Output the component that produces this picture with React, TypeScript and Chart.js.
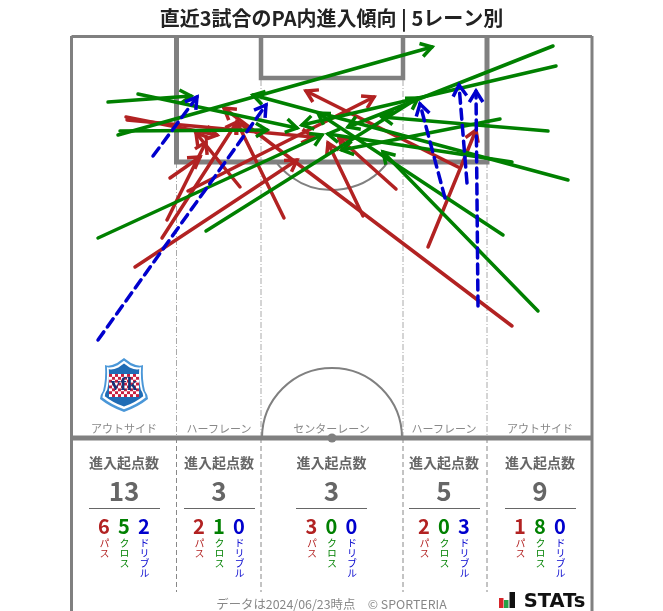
import React, { useEffect, useRef } from "react";
import { Chart, registerables } from "chart.js";

Chart.register(...registerables);

const TITLE = "直近3試合のPA内進入傾向 | 5レーン別";
const FONT = "'Noto Sans CJK JP', 'Noto Sans', sans-serif";

// Arrows in pitch units: [startX, startY, endX, endY]. Pitch is 104 wide and 100 long.
const passArrows = [
  [12.6, 42.75, 45, 69.5],
  [10.8, 80.25, 29, 75.75],
  [11, 79.5, 48.2, 75.25],
  [18, 50, 33, 79],
  [19, 54.5, 26.8, 74],
  [19.6, 65, 25.6, 70.25],
  [23.2, 61.75, 60.4, 85.25],
  [33.6, 62.75, 24.8, 76.25],
  [42.4, 55, 33, 79],
  [58.2, 55.5, 51.2, 73.75],
  [64.8, 62.25, 53.4, 75],
  [71.2, 47.75, 80.8, 77],
  [77.2, 67.75, 46.8, 86.75],
  [88, 28, 30.4, 82.5],
];
const crossArrows = [
  [7.2, 84, 23.8, 85.5],
  [13.2, 86, 45, 77.5],
  [9.2, 75.75, 72, 97.75],
  [9.6, 76.75, 39, 77],
  [5.2, 50, 50, 75.75],
  [26.8, 51.75, 69.2, 85],
  [96.2, 98, 55.2, 77.75],
  [96.8, 93, 46, 78.25],
  [95.2, 76.75, 62, 80.25],
  [99.2, 64.5, 36.2, 85.75],
  [86.2, 50.75, 49.2, 81.25],
  [93.2, 31.75, 62.2, 71.5],
  [88, 69, 51.2, 76],
  [85.6, 79.75, 54, 72],
];
const dribbleArrows = [
  [16.2, 70.5, 25, 85.25],
  [5.2, 24.5, 38.8, 83.25],
  [74.6, 60, 69.6, 83.5],
  [79, 63.75, 77.4, 88.25],
  [81.2, 33, 80.8, 86.75],
];

const laneNames = ["アウトサイド", "ハーフレーン", "センターレーン", "ハーフレーン", "アウトサイド"];
const laneTotals = [13, 3, 3, 5, 9];
const lanePass = [6, 2, 3, 2, 1];
const laneCross = [5, 1, 0, 0, 8];
const laneDribble = [2, 0, 0, 3, 0];
const laneCenters = [124, 219, 331.5, 444, 540];

const PASS = "#B22222";
const CROSS = "#008000";
const DRIBBLE = "#0000CD";
const LINE = "#808080";

const arrowPlugin = {
  id: "arrowHeads",
  afterDatasetDraw(chart: any, args: any) {
    const meta = chart.getDatasetMeta(args.index);
    const ds = chart.data.datasets[args.index];
    const [a, b] = meta.data;
    if (!a || !b) return;
    const ang = Math.atan2(b.y - a.y, b.x - a.x);
    const len = 13;
    const spread = 0.55;
    const ctx = chart.ctx;
    ctx.save();
    ctx.strokeStyle = ds.borderColor;
    ctx.lineWidth = 3.5;
    ctx.lineCap = "butt";
    ctx.lineJoin = "miter";
    ctx.beginPath();
    ctx.moveTo(b.x - len * Math.cos(ang - spread), b.y - len * Math.sin(ang - spread));
    ctx.lineTo(b.x, b.y);
    ctx.lineTo(b.x - len * Math.cos(ang + spread), b.y - len * Math.sin(ang + spread));
    ctx.stroke();
    ctx.restore();
  },
};

const pitchPlugin = {
  id: "pitch",
  beforeDatasetsDraw(chart: any) {
    const { ctx } = chart;
    const X = (v: number) => chart.scales.x.getPixelForValue(v);
    const Y = (v: number) => chart.scales.y.getPixelForValue(v);
    const seg = (x0: number, y0: number, x1: number, y1: number, w: number, color = LINE, dash: number[] = []) => {
      ctx.save();
      ctx.strokeStyle = color;
      ctx.lineWidth = w;
      ctx.setLineDash(dash);
      ctx.beginPath();
      ctx.moveTo(X(x0), Y(y0));
      ctx.lineTo(X(x1), Y(y1));
      ctx.stroke();
      ctx.restore();
    };
    const lanes = [20.9, 37.8, 66.2, 83];
    // lane dividers
    [0, 1, 2, 3].forEach((i) => {
      const top = i === 1 || i === 2 ? 89.5 : 69;
      seg(lanes[i], top, lanes[i], 0, 1, "#aaaaaa", [6, 2, 1, 2]);
      seg(lanes[i], 0, lanes[i], -38.5, 1, "#888888", [5, 3]);
    });
    // arcs
    ctx.save();
    ctx.strokeStyle = LINE;
    ctx.lineWidth = 2;
    const r = X(37.8 + 14) - X(37.8);
    ctx.beginPath();
    ctx.arc(X(52), Y(0), r, Math.PI, 2 * Math.PI);
    ctx.stroke();
    ctx.beginPath();
    ctx.arc(X(52), Y(79.5), r, 0.62, Math.PI - 0.62);
    ctx.stroke();
    ctx.fillStyle = LINE;
    ctx.beginPath();
    ctx.arc(X(52), Y(0), 4.5, 0, 2 * Math.PI);
    ctx.fill();
    ctx.restore();
    // boxes
    ctx.save();
    ctx.strokeStyle = LINE;
    ctx.lineWidth = 5;
    ctx.lineJoin = "miter";
    ctx.beginPath();
    ctx.moveTo(X(20.9), Y(100.5));
    ctx.lineTo(X(20.9), Y(69));
    ctx.lineTo(X(83), Y(69));
    ctx.lineTo(X(83), Y(100.5));
    ctx.stroke();
    ctx.lineWidth = 4.5;
    ctx.beginPath();
    ctx.moveTo(X(37.8), Y(100.5));
    ctx.lineTo(X(37.8), Y(90));
    ctx.lineTo(X(66.2), Y(90));
    ctx.lineTo(X(66.2), Y(100.5));
    ctx.stroke();
    ctx.restore();
    // boundary
    seg(-0.1, 100.4, 104, 100.4, 3);
    seg(-0.1, 100.5, -0.1, -43.25, 3);
    seg(104, 100.5, 104, -43.25, 3);
    seg(0, 0, 104, 0, 5);
  },
  afterDraw(chart: any) {
    const { ctx } = chart;
    const px = chart.scales.x.getPixelForValue(10.4);
    const py = chart.scales.y.getPixelForValue(13.25);
    ctx.save();
    ctx.translate(px, py);
    const shield = (s: number) => {
      ctx.beginPath();
      ctx.moveTo(0, -27 * s);
      ctx.lineTo(7 * s, -22 * s);
      ctx.quadraticCurveTo(15 * s, -18 * s, 19 * s, -20 * s);
      ctx.quadraticCurveTo(18 * s, -6 * s, 21 * s, 6 * s);
      ctx.quadraticCurveTo(24 * s, 10 * s, 24 * s, 14 * s);
      ctx.quadraticCurveTo(14 * s, 22 * s, 0, 27 * s);
      ctx.quadraticCurveTo(-14 * s, 22 * s, -24 * s, 14 * s);
      ctx.quadraticCurveTo(-24 * s, 10 * s, -21 * s, 6 * s);
      ctx.quadraticCurveTo(-18 * s, -6 * s, -19 * s, -20 * s);
      ctx.quadraticCurveTo(-15 * s, -18 * s, -7 * s, -22 * s);
      ctx.closePath();
    };
    ctx.fillStyle = "#4a97d8";
    shield(1);
    ctx.fill();
    ctx.fillStyle = "#ffffff";
    shield(0.9);
    ctx.fill();
    ctx.fillStyle = "#1f6cb5";
    shield(0.8);
    ctx.fill();
    // checker field
    ctx.fillStyle = "#ffffff";
    ctx.fillRect(-15, -11, 30, 23);
    ctx.fillStyle = "#c8203f";
    for (let i = 0; i < 10; i++) {
      for (let j = 0; j < 8; j++) {
        if ((i + j) % 2 === 0) ctx.fillRect(-15 + i * 3, -11 + j * 2.875, 3, 2.875);
      }
    }
    ctx.fillStyle = "#12347a";
    ctx.font = "bold 19px 'Liberation Serif', serif";
    ctx.textAlign = "center";
    ctx.textBaseline = "middle";
    ctx.fillText("vfk", 0, 0);
    ctx.restore();

    // STATs mark
    const bx = chart.scales.x.getPixelForValue(85.4);
    const by = chart.scales.y.getPixelForValue(-42.5);
    ctx.save();
    ctx.fillStyle = "#d7262b";
    ctx.fillRect(bx, by - 10, 4.5, 10);
    ctx.fillStyle = "#27a046";
    ctx.fillRect(bx + 5, by - 8, 4.5, 8);
    ctx.fillStyle = "#111111";
    ctx.fillRect(bx + 10.5, by - 16, 5.5, 16);
    ctx.restore();
  },
};

export default function App() {
  const ref = useRef<HTMLCanvasElement>(null);
  useEffect(() => {
    const make = (rows: number[][], color: string, order: number, dash: number[], w: number) =>
      rows.map((r) => ({
        data: [
          { x: r[0], y: r[1] },
          { x: r[2], y: r[3] },
        ],
        showLine: true,
        pointRadius: 0,
        borderColor: color,
        backgroundColor: color,
        borderWidth: w,
        borderDash: dash,
        borderCapStyle: "round",
        order,
        clip: false,
      }));
    const chart = new Chart(ref.current!, {
      type: "scatter",
      data: {
        datasets: [
          ...make(passArrows, PASS, 3, [], 3.5),
          ...make(crossArrows, CROSS, 2, [], 3.5),
          ...make(dribbleArrows, DRIBBLE, 1, [10, 6], 3.5),
        ] as any,
      },
      options: {
        responsive: false,
        animation: false,
        events: [],
        layout: { padding: 0 },
        plugins: {
          legend: { display: false },
          tooltip: { enabled: false },
          title: {
            display: true,
            text: TITLE,
            color: "#222222",
            font: { family: FONT, size: 20, weight: "bold", lineHeight: 1.2 },
            padding: { top: 6, bottom: 6 },
          },
        },
        scales: {
          x: { type: "linear", min: -14.4, max: 118.2, display: false },
          y: { type: "linear", min: -43.25, max: 100.5, display: false },
        },
      },
      plugins: [pitchPlugin, arrowPlugin],
    } as any);
    return () => chart.destroy();
  }, []);

  const text = (x: number, y: number, style: React.CSSProperties, content: React.ReactNode, key: string) => (
    <div
      key={key}
      style={{
        position: "absolute",
        left: x,
        top: y,
        transform: "translate(-50%, -50%)",
        whiteSpace: "nowrap",
        lineHeight: 1,
        fontFamily: FONT,
        ...style,
      }}
    >
      {content}
    </div>
  );

  const kinds = [
    { name: "パス", color: PASS, values: lanePass, dx: -20 },
    { name: "クロス", color: CROSS, values: laneCross, dx: 0 },
    { name: "ドリブル", color: DRIBBLE, values: laneDribble, dx: 20 },
  ];

  return (
    <div style={{ position: "absolute", left: 0, top: 0, width: 663, height: 611, overflow: "hidden", background: "#fff" }}>
      <canvas ref={ref} width={663} height={611} style={{ display: "block" }} />
      {laneNames.map((n, i) => text(laneCenters[i], 428, { fontSize: 11, color: "#888888" }, n, "lane" + i))}
      {laneCenters.map((c, i) => (
        <React.Fragment key={i}>
          {text(c, 461.5, { fontSize: 14, fontWeight: 700, color: "#666666" }, "進入起点数", "h" + i)}
          {text(c, 490, { fontSize: 26, fontWeight: 700, color: "#666666" }, laneTotals[i], "t" + i)}
          <div style={{ position: "absolute", left: c - 35.5, top: 508, width: 71, height: 1, background: "#666666" }} />
          {kinds.map((k) => (
            <React.Fragment key={k.name}>
              {text(c + k.dx, 525.5, { fontSize: 20, fontWeight: 700, color: k.color }, k.values[i], k.name + i)}
              <div
                style={{
                  position: "absolute",
                  left: c + k.dx - 6,
                  top: 538,
                  width: 12,
                  fontSize: 10,
                  lineHeight: "12px",
                  color: k.color,
                  fontFamily: FONT,
                  writingMode: "vertical-rl",
                  textOrientation: "upright",
                  whiteSpace: "nowrap",
                }}
              >
                {k.name}
              </div>
            </React.Fragment>
          ))}
        </React.Fragment>
      ))}
      {text(331.5, 604, { fontSize: 12.4, color: "#888888" }, "データは2024/06/23時点　© SPORTERIA", "foot")}
      {text(554.5, 600.5, { fontSize: 19.5, fontWeight: 700, color: "#111111", fontFamily: "'DejaVu Sans', sans-serif" }, "STATs", "stats")}
    </div>
  );
}
